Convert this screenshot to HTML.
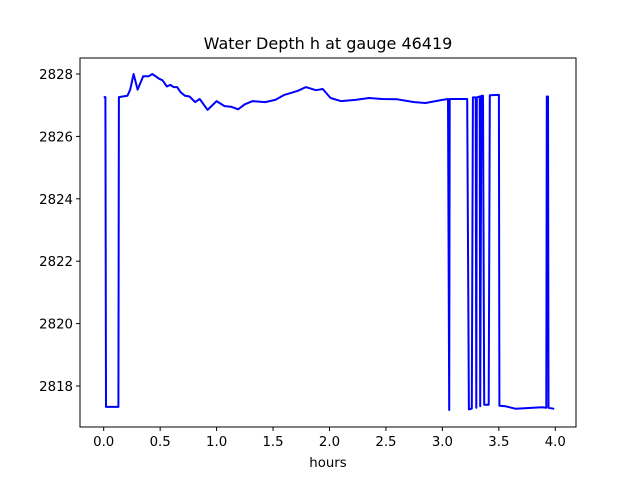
<!DOCTYPE html>
<html><head><meta charset="utf-8"><style>body{margin:0;background:#fff}svg text{font-family:"DejaVu Sans","Liberation Sans",sans-serif}</style></head>
<body>
<svg id="chart" width="640" height="480" xmlns="http://www.w3.org/2000/svg">
<rect width="640" height="480" fill="#fff"/>
<text x="328" y="49" font-size="16" text-anchor="middle">Water Depth h at gauge 46419</text>
<g id="plot"></g>
<rect x="80" y="58" width="496" height="369" fill="none" stroke="#000" stroke-width="1"/>
<text x="328" y="467" font-size="13.3" text-anchor="middle">hours</text>
</svg>
<script>
const xTicks=[0,0.5,1,1.5,2,2.5,3,3.5,4];
const xTickLabels=["0.0","0.5","1.0","1.5","2.0","2.5","3.0","3.5","4.0"];
const yTicks=[2818,2820,2822,2824,2826,2828];
const yTickLabels=["2818","2820","2822","2824","2826","2828"];
const times=[0,0.015,0.02,0.13,0.135,0.21,0.235,0.265,0.30,0.35,0.40,0.43,0.47,0.49,0.52,0.56,0.59,0.62,0.65,0.68,0.72,0.76,0.81,0.85,0.92,1.0,1.07,1.13,1.19,1.25,1.32,1.43,1.52,1.6,1.72,1.79,1.88,1.94,2.01,2.1,2.23,2.35,2.47,2.6,2.75,2.85,3.0,3.05,3.06,3.065,3.22,3.235,3.26,3.27,3.295,3.30,3.305,3.33,3.335,3.345,3.36,3.37,3.41,3.42,3.50,3.505,3.56,3.65,3.88,3.92,3.925,3.935,3.94,3.99];
const depths=[2827.26,2827.26,2817.33,2817.33,2827.26,2827.3,2827.5,2828.0,2827.5,2827.93,2827.93,2828.0,2827.9,2827.85,2827.8,2827.6,2827.65,2827.58,2827.58,2827.42,2827.3,2827.28,2827.1,2827.2,2826.85,2827.13,2826.97,2826.95,2826.87,2827.03,2827.13,2827.1,2827.17,2827.33,2827.46,2827.58,2827.48,2827.52,2827.23,2827.13,2827.17,2827.23,2827.2,2827.19,2827.1,2827.07,2827.17,2827.2,2817.23,2827.2,2827.2,2817.25,2817.28,2827.25,2827.25,2817.3,2827.25,2827.28,2817.35,2827.3,2827.3,2817.4,2817.4,2827.32,2827.33,2817.37,2817.35,2817.27,2817.32,2817.3,2827.28,2827.28,2817.3,2817.27];
const X0=80,X1=576,Y0=58,Y1=427;
const xs=t=>103.7+t*112.9;
const ys=h=>386-(h-2818)*31.2;
const g=document.getElementById('plot');
const NS='http://www.w3.org/2000/svg';
function mk(tag,attrs){const e=document.createElementNS(NS,tag);for(const k in attrs)e.setAttribute(k,attrs[k]);g.appendChild(e);return e;}
xTicks.forEach((t,i)=>{
 const l=mk('line',{x1:xs(t),x2:xs(t),y1:Y1,y2:Y1+4,stroke:'#000'});
 
 
 const tx=mk('text',{x:xs(t),y:Y1+19,'font-size':'13.3','text-anchor':'middle'});
 tx.textContent=xTickLabels[i];
 
 
});
yTicks.forEach((v,i)=>{
 const l=mk('line',{x1:X0-4,x2:X0,y1:ys(v),y2:ys(v),stroke:'#000'});
 
 
 const tx=mk('text',{x:X0-7,y:ys(v)+5,'font-size':'13.3','text-anchor':'end'});
 tx.textContent=yTickLabels[i];
 
 
});
const d=times.map((t,i)=>(i?'L':'M')+xs(t).toFixed(1)+','+ys(depths[i]).toFixed(1)).join('');
const p=mk('path',{d:d,fill:'none',stroke:'#0000ff','stroke-width':'2','stroke-linejoin':'round'});


</script>
</body></html>
